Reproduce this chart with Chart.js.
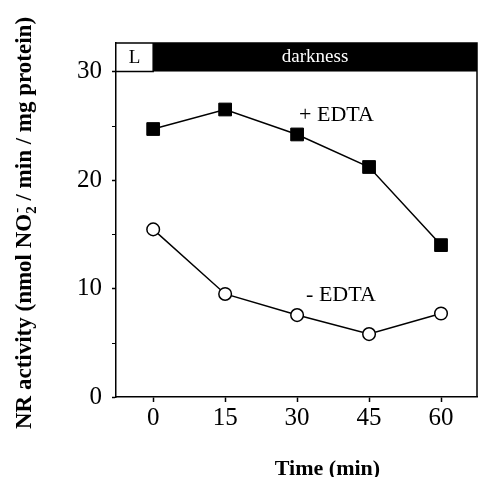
<!DOCTYPE html>
<html>
<head>
<meta charset="utf-8">
<script src="https://cdn.jsdelivr.net/npm/chart.js@4"></script>
<style>
html,body{margin:0;padding:0;background:#fff;}
#wrap{width:487px;height:477px;position:relative;}
</style>
</head>
<body>
<div id="wrap"><canvas id="c" width="487" height="477"></canvas></div>
<script>
// ---- data ----
const times = [0, 15, 30, 45, 60];
const plusEDTA = [24.7, 26.5, 24.2, 21.2, 14.0];
const minusEDTA = [15.45, 9.5, 7.55, 5.8, 7.7];
const xTicks = [0, 15, 30, 45, 60];
const yTicks = [0, 10, 20, 30];
const yMinorTicks = [5, 15, 25];
const seriesLabels = ['+ EDTA', '- EDTA'];
const xTitle = 'Time (min)';
const yTitleParts = ['NR activity (nmol NO', '2', '-', ' / min / mg protein)'];
const lightLabel = 'L';
const darkLabel = 'darkness';

const SERIF = '"Liberation Serif", "Times New Roman", serif';

const decor = {
  id: 'decor',
  beforeDatasetsDraw(chart) {
    const {ctx, chartArea: a, scales: {x, y}} = chart;
    ctx.save();
    const y30 = y.getPixelForValue(30);
    const x0 = x.getPixelForValue(0);
    ctx.fillStyle = '#000';
    ctx.fillRect(x0, a.top, a.right - x0, y30 - a.top);
    ctx.strokeStyle = '#000';
    ctx.lineWidth = 1.5;
    ctx.beginPath();
    ctx.moveTo(a.left, a.top); ctx.lineTo(a.right, a.top); ctx.lineTo(a.right, a.bottom);
    ctx.moveTo(a.left, y30); ctx.lineTo(x0, y30); ctx.lineTo(x0, a.top);
    ctx.stroke();
    ctx.font = '19px ' + SERIF;
    ctx.textAlign = 'center';
    ctx.textBaseline = 'middle';
    ctx.fillStyle = '#000';
    ctx.fillText(lightLabel, (a.left + x0) / 2, (a.top + y30) / 2 + 1);
    ctx.fillStyle = '#fff';
    ctx.fillText(darkLabel, (x0 + a.right) / 2, (a.top + y30) / 2);
    ctx.strokeStyle = '#000';
    ctx.lineWidth = 1.2;
    ctx.beginPath();
    yMinorTicks.forEach(v => {
      const p = Math.round(y.getPixelForValue(v)) + 0.5;
      ctx.moveTo(a.left - 4, p); ctx.lineTo(a.left, p);
    });
    ctx.stroke();
    ctx.restore();
  },
  afterDraw(chart) {
    const {ctx, chartArea: a, scales: {x, y}} = chart;
    ctx.save();
    ctx.fillStyle = '#000';
    ctx.font = '22px ' + SERIF;
    ctx.textAlign = 'left';
    ctx.textBaseline = 'middle';
    ctx.fillText(seriesLabels[0], x.getPixelForValue(30) + 2, y.getPixelForValue(26));
    ctx.fillText(seriesLabels[1], x.getPixelForValue(30) + 9, y.getPixelForValue(9.35));
    ctx.font = 'bold 22px ' + SERIF;
    ctx.textAlign = 'center';
    ctx.textBaseline = 'alphabetic';
    ctx.fillText(xTitle, (a.left + a.right) / 2 + 31, 475);
    ctx.translate(31, 0);
    ctx.rotate(-Math.PI / 2);
    const big = 'bold 23px ' + SERIF, small = 'bold 15px ' + SERIF;
    ctx.textAlign = 'left';
    const fonts = [big, small, small, big];
    const offs = [0, 5, -10, 0];
    let widths = yTitleParts.map((t, i) => { ctx.font = fonts[i]; return ctx.measureText(t).width; });
    const total = widths[0] + Math.max(widths[1], widths[2]) + widths[3];
    let pos = -(223 + total / 2);
    ctx.font = fonts[0]; ctx.fillText(yTitleParts[0], pos, 0); pos += widths[0];
    ctx.font = small; ctx.fillText(yTitleParts[1], pos, offs[1]); ctx.fillText(yTitleParts[2], pos + 1, offs[2]);
    pos += Math.max(widths[1], widths[2]);
    ctx.font = fonts[3]; ctx.fillText(yTitleParts[3], pos, 0);
    ctx.restore();
  }
};

new Chart(document.getElementById('c'), {
  type: 'scatter',
  data: {
    datasets: [
      {
        label: seriesLabels[0],
        data: times.map((t, i) => ({x: t, y: plusEDTA[i]})),
        showLine: true,
        borderColor: '#000',
        borderWidth: 1.5,
        pointStyle: 'rect',
        pointRadius: 9,
        pointBackgroundColor: '#000',
        pointBorderColor: '#000',
        pointBorderWidth: 1
      },
      {
        label: seriesLabels[1],
        data: times.map((t, i) => ({x: t, y: minusEDTA[i]})),
        showLine: true,
        borderColor: '#000',
        borderWidth: 1.5,
        pointStyle: 'circle',
        pointRadius: 6.3,
        pointBackgroundColor: '#fff',
        pointBorderColor: '#000',
        pointBorderWidth: 1.5
      }
    ]
  },
  options: {
    responsive: false,
    animation: false,
    devicePixelRatio: 1,
    layout: {padding: {left: 0, top: 43, right: 2, bottom: 0}},
    plugins: {legend: {display: false}, tooltip: {enabled: false}},
    scales: {
      x: {
        type: 'linear',
        min: -7.75,
        max: 67.5,
        afterBuildTicks: s => { s.ticks = xTicks.map(v => ({value: v})); },
        afterFit: s => { s.height = 80; },
        ticks: {color: '#000', font: {family: SERIF, size: 25}, padding: 1, maxRotation: 0},
        grid: {drawOnChartArea: false, drawTicks: true, tickLength: 5, tickColor: '#000', tickWidth: 1.5},
        border: {color: '#000', width: 1.5}
      },
      y: {
        min: 0,
        max: 32.63,
        afterBuildTicks: s => { s.ticks = yTicks.map(v => ({value: v})); },
        afterFit: s => { s.width = 116; },
        ticks: {color: '#000', font: {family: SERIF, size: 25}, padding: 10},
        grid: {drawOnChartArea: false, drawTicks: true, tickLength: 4, tickColor: '#000', tickWidth: 1.5},
        border: {color: '#000', width: 1.5}
      }
    }
  },
  plugins: [decor]
});
</script>
</body>
</html>
